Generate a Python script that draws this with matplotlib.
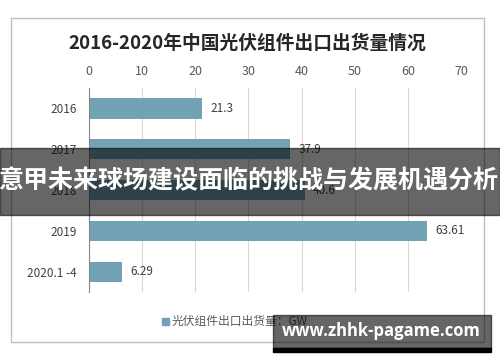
import matplotlib.pyplot as plt
from matplotlib.patches import Rectangle

plt.rcParams['font.family'] = ['Noto Sans CJK SC', 'DejaVu Sans']

# data
years = ['2016', '2017', '2018', '2019', '2020.1 -4']
exports_gw = [21.3, 37.9, 40.6, 63.61, 6.29]
value_labels = ['21.3', '37.9', '40.6', '63.61', '6.29']

bar_color = '#73a2b5'
text_color = '#595959'

fig = plt.figure(figsize=(5.0, 3.62), dpi=100)
ax = fig.add_axes([0.178, 0.193, 0.744, 0.564])

y = list(range(len(years)))
ax.barh(y, exports_gw, height=0.5, color=bar_color, zorder=3)
ax.set_ylim(len(years) - 0.5, -0.5)
ax.set_xlim(0, 70)
ax.set_xticks(range(0, 71, 10))
ax.xaxis.tick_top()
ax.tick_params(axis='x', length=0, pad=7, labelsize=9, labelcolor=text_color)
ax.tick_params(axis='y', length=0, pad=9, labelsize=8.5, labelcolor='#404040')
ax.set_yticks(y)
ax.set_yticklabels(years)
ax.grid(axis='x', color='#d9d9d9', linewidth=0.8, zorder=0)
for s in ['top', 'right', 'bottom']:
    ax.spines[s].set_visible(False)
ax.spines['left'].set_color('#868686')
ax.spines['left'].set_zorder(4)

for yi, v, lab in zip(y, exports_gw, value_labels):
    ax.text(v + 1.5, yi, lab, va='center', ha='left', fontsize=8.5,
            color='#404040', zorder=5)

# chart frame
fig.patches.append(Rectangle((11 / 500, 1 - 342 / 362), 473 / 500, 324 / 362,
                             transform=fig.transFigure, fill=False,
                             edgecolor='#bfbfbf', linewidth=1))

fig.text(0.495, 1 - 43 / 362, '2016-2020年中国光伏组件出口出货量情况',
         ha='center', va='center', fontsize=13.5, fontweight='bold',
         color='#262626')

# legend
fig.patches.append(Rectangle((162 / 500, 1 - 325 / 362), 7 / 500, 7 / 362,
                             transform=fig.transFigure, color=bar_color))
fig.text(172 / 500, 1 - 321 / 362, '光伏组件出口出货量：GW', ha='left',
         va='center', fontsize=8.5, color=text_color)

# banner overlay
fig.patches.append(Rectangle((0, 1 - 215 / 362), 1, 67 / 362,
                             transform=fig.transFigure, color='black',
                             alpha=0.6, zorder=10))
fig.text(0.496, 1 - 181 / 362, '意甲未来球场建设面临的挑战与发展机遇分析',
         ha='center', va='center', fontsize=18, fontweight='bold',
         color='white', zorder=11)

# watermark
fig.patches.append(Rectangle((273 / 500, 1 - 348 / 362), 218 / 500, 33 / 362,
                             transform=fig.transFigure, color='black',
                             alpha=0.6, zorder=10))
fig.patches.append(Rectangle((273 / 500, 1 - 352 / 362), 218 / 500, 4 / 362,
                             transform=fig.transFigure, color='black',
                             zorder=10))
fig.text(381 / 500, 1 - 331 / 362, 'www.zhhk-pagame.com', ha='center',
         va='center', fontsize=12, fontweight='bold', color='white',
         family='Open Sans', zorder=11)

fig.savefig('out.png', dpi=100)
